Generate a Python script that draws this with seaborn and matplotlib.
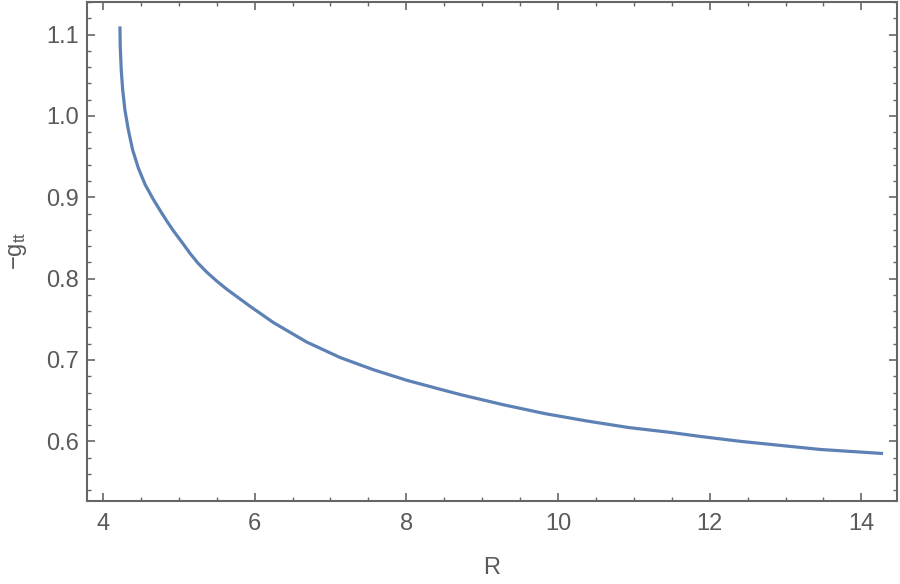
import matplotlib
matplotlib.use("Agg")
from matplotlib import pyplot as plt
from matplotlib.ticker import MultipleLocator, FormatStrFormatter
import pandas as pd
import seaborn as sns

# values
R = [4.224, 4.228, 4.241, 4.260, 4.290, 4.334, 4.392, 4.466, 4.554, 4.660,
     4.752, 4.840, 4.927, 5.055, 5.148, 5.253, 5.368, 5.500, 5.632, 5.939,
     6.247, 6.687, 7.127, 7.566, 8.007, 8.446, 8.732, 9.277, 9.831, 10.381,
     10.926, 11.480, 11.876, 12.404, 12.931, 13.459, 14.286]
gtt = [1.110, 1.085, 1.057, 1.032, 1.007, 0.983, 0.958, 0.936, 0.916, 0.898,
       0.884, 0.871, 0.859, 0.843, 0.831, 0.819, 0.808, 0.797, 0.787, 0.766,
       0.746, 0.722, 0.703, 0.688, 0.675, 0.664, 0.657, 0.645, 0.634, 0.625,
       0.617, 0.611, 0.606, 0.600, 0.595, 0.590, 0.585]

df = pd.DataFrame({"R": R, "gtt": gtt})

sns.set_style("ticks")
plt.rcParams["font.family"] = ["Liberation Sans", "DejaVu Sans"]
plt.rcParams["mathtext.fontset"] = "custom"
plt.rcParams["mathtext.rm"] = "Liberation Sans"
plt.rcParams["mathtext.it"] = "Liberation Sans"

grey = "#666666"
txt = "#5a5a5a"

fig = plt.figure(figsize=(9, 5.84), dpi=100)
ax = fig.add_axes([0.0967, 0.1426, 0.9, 0.854])

sns.lineplot(data=df, x="R", y="gtt", ax=ax, color="#5E81B5", linewidth=2.3,
             sort=False, solid_joinstyle="round", solid_capstyle="butt")

ax.set_xlim(3.79, 14.47)
ax.set_ylim(0.527, 1.140)

ax.xaxis.set_major_locator(MultipleLocator(2))
ax.xaxis.set_minor_locator(MultipleLocator(0.5))
ax.yaxis.set_major_locator(MultipleLocator(0.1))
ax.yaxis.set_minor_locator(MultipleLocator(0.02))
ax.yaxis.set_major_formatter(FormatStrFormatter("%.1f"))

for s in ax.spines.values():
    s.set_visible(True)
    s.set_color(grey)
    s.set_linewidth(1.5)

ax.tick_params(which="both", direction="in", top=True, right=True, color=grey,
               labelcolor=txt, labelsize=17)
ax.tick_params(which="major", length=6, width=1.2)
ax.tick_params(which="minor", length=3, width=1.0)
ax.tick_params(axis="x", which="major", pad=9)
ax.tick_params(axis="y", which="major", pad=6)

ax.set_xlabel("R", fontsize=17, color=txt, labelpad=16)
ax.set_ylabel(r"$-\mathrm{g}_{\mathrm{tt}}$", fontsize=17, color=txt, labelpad=12)

fig.savefig("out.png", dpi=100)
